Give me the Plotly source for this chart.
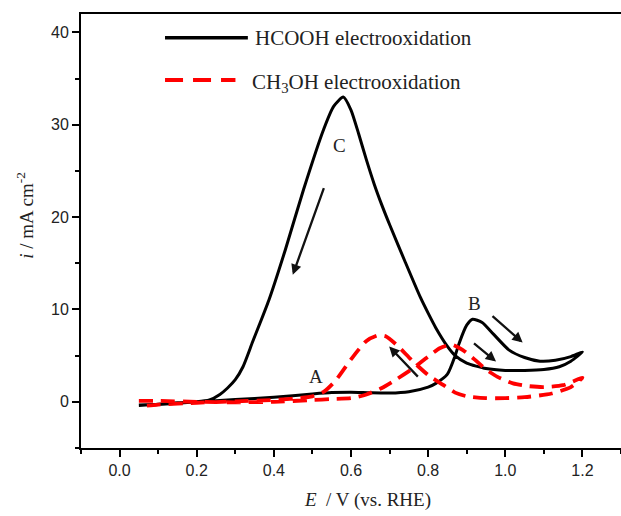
import plotly.graph_objects as go

# HCOOH cyclic voltammogram (forward 0.05 -> 1.2 V, then reverse back to 0.05 V)
hcooh_E = [0.05, 0.10, 0.20, 0.30, 0.40, 0.50, 0.55, 0.60, 0.65, 0.70, 0.75, 0.80, 0.82,
           0.85, 0.87, 0.88, 0.90, 0.915, 0.94, 0.97, 1.01, 1.05, 1.09, 1.13, 1.17, 1.20,
           1.17, 1.14, 1.10, 1.05, 1.00, 0.95, 0.90, 0.87, 0.85, 0.82, 0.80, 0.78, 0.74,
           0.70, 0.68, 0.66, 0.64, 0.62, 0.60, 0.58, 0.555, 0.529, 0.477, 0.43, 0.387,
           0.345, 0.32, 0.30, 0.28, 0.26, 0.233, 0.20, 0.15, 0.10, 0.05]
hcooh_i = [-0.40, -0.30, 0.00, 0.25, 0.50, 0.85, 1.00, 1.05, 0.98, 0.95, 1.10, 1.60, 2.00,
           3.00, 5.00, 6.30, 8.30, 8.95, 8.60, 7.30, 5.60, 4.80, 4.40, 4.50, 4.90, 5.40,
           4.40, 3.80, 3.50, 3.40, 3.40, 3.60, 4.20, 5.00, 6.00, 8.00, 9.60, 11.3, 15.2,
           19.2, 21.3, 23.6, 26.2, 29.0, 31.6, 33.0, 32.0, 29.5, 23.0, 16.5, 11.0,
           6.50, 3.80, 2.40, 1.50, 0.80, 0.20, 0.00, -0.10, -0.25, -0.35]

# CH3OH cyclic voltammogram (forward then reverse)
meoh_E = [0.05, 0.10, 0.20, 0.30, 0.40, 0.50, 0.55, 0.60, 0.64, 0.68, 0.72, 0.76, 0.80,
          0.83, 0.86, 0.89, 0.92, 0.95, 0.98, 1.02, 1.06, 1.10, 1.15, 1.20,
          1.17, 1.12, 1.05, 1.00, 0.95, 0.90, 0.87, 0.84, 0.80, 0.76, 0.72, 0.69, 0.67,
          0.64, 0.60, 0.56, 0.53, 0.50, 0.45, 0.40, 0.30, 0.20, 0.10, 0.05]
meoh_i = [0.10, 0.10, 0.00, -0.05, 0.00, 0.20, 0.30, 0.40, 0.80, 1.50, 2.50, 3.60, 4.90,
          5.80, 6.20, 5.60, 4.60, 3.50, 2.70, 2.00, 1.70, 1.60, 1.80, 2.60,
          1.60, 0.90, 0.50, 0.40, 0.40, 0.60, 1.00, 1.80, 2.90, 4.40, 6.10, 7.10, 7.20,
          6.60, 4.60, 2.30, 1.10, 0.60, 0.35, 0.20, 0.05, -0.10, -0.30, -0.50]

series_names = ["HCOOH electrooxidation", "CH<sub>3</sub>OH electrooxidation"]

# peak labels
label_text = ["A", "B", "C"]
label_E = [0.51, 0.92, 0.57]
label_i = [2.7, 10.6, 27.8]

# scan-direction arrows: (tail E, tail i, head E, head i)
arrow_tail_E = [0.531, 0.777, 0.963, 0.915]
arrow_tail_i = [23.3, 2.57, 9.42, 6.47]
arrow_head_E = [0.449, 0.699, 1.045, 0.976]
arrow_head_i = [13.75, 5.99, 6.42, 4.37]

x_ticks = [0.0, 0.2, 0.4, 0.6, 0.8, 1.0, 1.2]
y_ticks = [0, 10, 20, 30, 40]

serif = "Liberation Serif, Times New Roman, serif"
sans = "Liberation Sans, Arial, sans-serif"

fig = go.Figure()
fig.add_trace(go.Scatter(x=hcooh_E, y=hcooh_i, mode="lines", name=series_names[0],
                         line=dict(color="black", width=3, shape="spline", smoothing=0.6)))
fig.add_trace(go.Scatter(x=meoh_E, y=meoh_i, mode="lines", name=series_names[1],
                         line=dict(color="#ff0000", width=3.8, dash="14px,8px",
                                   shape="spline", smoothing=0.6)))

for t, xe, yi in zip(label_text, label_E, label_i):
    fig.add_annotation(x=xe, y=yi, text=t, showarrow=False,
                       font=dict(family=serif, size=19, color="#222"))

for te, ti, he, hi in zip(arrow_tail_E, arrow_tail_i, arrow_head_E, arrow_head_i):
    fig.add_annotation(x=he, y=hi, ax=te, ay=ti, axref="x", ayref="y",
                       xref="x", yref="y", text="", showarrow=True,
                       arrowhead=2, arrowsize=0.9, arrowwidth=2.3, arrowcolor="#111")

# legend drawn by hand (long line samples)
fig.add_shape(type="line", xref="paper", yref="paper", x0=0.1556, x1=0.309,
              y0=0.9454, y1=0.9454, line=dict(color="black", width=3.5))
fig.add_shape(type="line", xref="paper", yref="paper", x0=0.1556, x1=0.286,
              y0=0.848, y1=0.848, line=dict(color="#ff0000", width=4, dash="18px,10px"))
fig.add_annotation(xref="paper", yref="paper", x=0.3185, y=0.9454, xanchor="left",
                   yanchor="middle", text=series_names[0], showarrow=False,
                   font=dict(family=serif, size=21, color="#222"))
fig.add_annotation(xref="paper", yref="paper", x=0.313, y=0.842, xanchor="left",
                   yanchor="middle", text=series_names[1], showarrow=False,
                   font=dict(family=serif, size=21, color="#222"))

# axis titles
fig.add_annotation(xref="paper", yref="paper", x=0.53, y=-0.12, xanchor="center",
                   yanchor="middle", text="<i>E</i>  / V (vs. RHE)", showarrow=False,
                   font=dict(family=serif, size=19, color="#222"))
fig.add_annotation(xref="paper", yref="paper", x=-0.104, y=0.537, xanchor="center",
                   yanchor="middle", text="<i>i</i> / mA cm<sup>-2</sup>", showarrow=False,
                   textangle=-90, font=dict(family=serif, size=19, color="#222"))

fig.update_layout(
    width=621, height=516,
    margin=dict(l=81, r=0, t=14, b=68, autoexpand=False),
    paper_bgcolor="white", plot_bgcolor="white",
    showlegend=False,
    font=dict(family=sans, size=16, color="#222"),
)
fig.update_xaxes(range=[-0.1, 1.3], tickvals=x_ticks, ticktext=[f"{v:.1f}" for v in x_ticks],
                 automargin=False,
                 showgrid=False, zeroline=False, showline=True, linecolor="black", linewidth=2,
                 mirror=True, ticks="outside", ticklen=7, tickwidth=2, tickcolor="black",
                 minor=dict(dtick=0.1, tick0=0, ticks="outside", ticklen=4, tickwidth=2,
                            tickcolor="black"),
                 tickfont=dict(family=sans, size=16, color="#222"))
fig.update_yaxes(range=[-5, 42], tickvals=y_ticks, showgrid=False, zeroline=False,
                 automargin=False,
                 showline=True, linecolor="black", linewidth=2, mirror=False,
                 ticks="outside", ticklen=7, tickwidth=2, tickcolor="black",
                 minor=dict(dtick=5, tick0=0, ticks="outside", ticklen=4, tickwidth=2,
                            tickcolor="black"),
                 tickfont=dict(family=sans, size=16, color="#222"))

fig.write_html("out.html", config={"displayModeBar": False},
               post_script="document.body.style.margin='0px';document.body.style.overflow='hidden';")
